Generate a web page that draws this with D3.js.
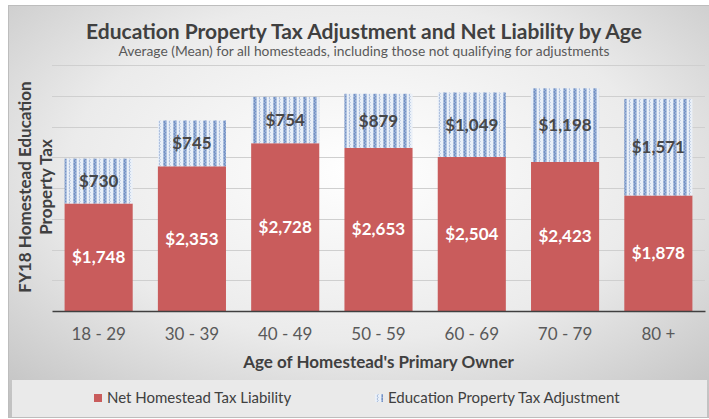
<!DOCTYPE html>
<html>
<head>
<meta charset="utf-8">
<script src="https://cdn.jsdelivr.net/npm/d3@7"></script>
<style>
  body { margin: 0; background: #ffffff; }
  svg text { font-family: Lato, "Open Sans", sans-serif; }
</style>
</head>
<body>
<div id="chart"></div>
<script>
// data
var ages = ["18 - 29", "30 - 39", "40 - 49", "50 - 59", "60 - 69", "70 - 79", "80 +"];
var netLiability = [1748, 2353, 2728, 2653, 2504, 2423, 1878];
var adjustment = [730, 745, 754, 879, 1049, 1198, 1571];
var yTicks = [0, 500, 1000, 1500, 2000, 2500, 3000, 3500, 4000];
var seriesNames = ["Net Homestead Tax Liability", "Education Property Tax Adjustment"];

var W = 709, H = 419;
var margin = {top: 65, right: 4, bottom: 108, left: 52};
var width = W - margin.left - margin.right,
    height = H - margin.top - margin.bottom;

var svg = d3.select("#chart").append("svg")
    .attr("width", W)
    .attr("height", H);

var defs = svg.append("defs");

// grey backdrop, light in the middle
var grad = defs.append("radialGradient")
    .attr("id", "bg")
    .attr("cx", "50%").attr("cy", "40%").attr("r", "75%");
grad.append("stop").attr("offset", "0%").attr("stop-color", "#ffffff");
grad.append("stop").attr("offset", "55%").attr("stop-color", "#ebebeb");
grad.append("stop").attr("offset", "100%").attr("stop-color", "#c2c2c2");

// wavy blue stripes for the adjustment series
var pat = defs.append("pattern")
    .attr("id", "wave")
    .attr("patternUnits", "userSpaceOnUse")
    .attr("width", 10).attr("height", 6);
pat.append("rect").attr("width", 10).attr("height", 6).attr("fill", "#eaf0f8");
pat.append("rect").attr("x", 1).attr("width", 4).attr("height", 6).attr("fill", "#b4c6e2");
pat.append("path")
    .attr("d", "M2,0 L3.6,1.5 L2,3 L3.6,4.5 L2,6")
    .attr("fill", "none").attr("stroke", "#7391c4").attr("stroke-width", 1.2);
pat.append("path")
    .attr("d", "M7,0 L8.2,1.5 L7,3 L8.2,4.5 L7,6")
    .attr("fill", "none").attr("stroke", "#a9bcdc").attr("stroke-width", 1);

svg.append("rect")
    .attr("x", 8.5).attr("y", 5.5)
    .attr("width", W - 8).attr("height", H - 7)
    .attr("fill", "url(#bg)")
    .attr("stroke", "#bdbdbd");

// title
svg.append("text")
    .attr("x", 364).attr("y", 39)
    .attr("text-anchor", "middle")
    .style("font-size", "21px")
    .style("font-weight", "bold")
    .attr("fill", "#404040")
    .text("Education Property Tax Adjustment and Net Liability by Age");
svg.append("text")
    .attr("x", 364).attr("y", 56)
    .attr("text-anchor", "middle")
    .style("font-size", "13.8px")
    .attr("fill", "#595959")
    .text("Average (Mean) for all homesteads, including those not qualifying for adjustments");

var g = svg.append("g")
    .attr("transform", "translate(" + margin.left + "," + margin.top + ")");

var x = d3.scaleBand()
    .domain(ages)
    .range([0, width])
    .paddingInner(0.27)
    .paddingOuter(0.135);

var y = d3.scaleLinear()
    .domain([0, 4000])
    .range([height, 0]);

// gridlines
g.append("g")
    .selectAll("line")
    .data(yTicks.slice(1))
    .enter().append("line")
    .attr("x1", 0).attr("x2", width)
    .attr("y1", function(d) { return Math.round(y(d)) + 0.5; })
    .attr("y2", function(d) { return Math.round(y(d)) + 0.5; })
    .attr("stroke", "#cfcfcf");

var rows = ages.map(function(a, i) {
    return {age: a, net: netLiability[i], adj: adjustment[i]};
});

// net liability (bottom)
g.append("g").selectAll("rect")
    .data(rows)
    .enter().append("rect")
    .attr("x", function(d) { return x(d.age); })
    .attr("width", x.bandwidth())
    .attr("y", function(d) { return y(d.net); })
    .attr("height", function(d) { return y(0) - y(d.net); })
    .attr("fill", "#c95c5c");

// adjustment (top)
g.append("g").selectAll("rect")
    .data(rows)
    .enter().append("rect")
    .attr("x", function(d) { return x(d.age); })
    .attr("width", x.bandwidth())
    .attr("y", function(d) { return y(d.net + d.adj); })
    .attr("height", function(d) { return y(d.net) - y(d.net + d.adj); })
    .attr("fill", "url(#wave)");

var fmt = d3.format("$,");

g.append("g").selectAll("text")
    .data(rows)
    .enter().append("text")
    .attr("x", function(d) { return x(d.age) + x.bandwidth() / 2; })
    .attr("y", function(d) { return (y(0) + y(d.net)) / 2; })
    .attr("dy", "0.35em")
    .attr("text-anchor", "middle")
    .style("font-size", "17px")
    .style("font-weight", "bold")
    .attr("fill", "#ffffff")
    .text(function(d) { return fmt(d.net); });

g.append("g").selectAll("text")
    .data(rows)
    .enter().append("text")
    .attr("x", function(d) { return x(d.age) + x.bandwidth() / 2; })
    .attr("y", function(d) { return (y(d.net) + y(d.net + d.adj)) / 2; })
    .attr("dy", "0.35em")
    .attr("text-anchor", "middle")
    .style("font-size", "17px")
    .style("font-weight", "bold")
    .attr("fill", "#474747")
    .text(function(d) { return fmt(d.adj); });

// x axis
var xAxis = g.append("g")
    .attr("transform", "translate(0," + height + ")")
    .call(d3.axisBottom(x).tickSize(0).tickPadding(17));
xAxis.select(".domain").attr("stroke", "#404040").attr("stroke-width", 1.5);
xAxis.selectAll("text")
    .style("font-size", "17px")
    .style("font-family", "Lato, sans-serif")
    .attr("fill", "#595959");

g.append("text")
    .attr("x", width / 2)
    .attr("y", height + 57)
    .attr("text-anchor", "middle")
    .style("font-size", "17px")
    .style("font-weight", "bold")
    .attr("fill", "#404040")
    .text("Age of Homestead's Primary Owner");

// y axis title, two lines
var yt = svg.append("text")
    .attr("transform", "translate(25,187) rotate(-90)")
    .attr("text-anchor", "middle")
    .style("font-size", "17px")
    .style("font-weight", "bold")
    .attr("fill", "#404040");
yt.append("tspan").attr("x", 0).attr("dy", "0.35em").text("FY18 Homestead Education");
yt.append("tspan").attr("x", 0).attr("dy", "1.25em").text("Property Tax");

// legend
svg.append("rect")
    .attr("x", 12).attr("y", 380)
    .attr("width", W - 14).attr("height", 37)
    .attr("fill", "#eaeaea");

var legend = svg.append("g");
var lx = [94, 375];
var lfill = ["#c95c5c", "url(#wave)"];
seriesNames.forEach(function(name, i) {
    legend.append("rect")
        .attr("x", lx[i]).attr("y", 394)
        .attr("width", 8).attr("height", 8)
        .attr("fill", lfill[i]);
    legend.append("text")
        .attr("x", lx[i] + 13).attr("y", 398)
        .attr("dy", "0.35em")
        .style("font-size", "15px")
        .attr("fill", "#404040")
        .text(name);
});
</script>
</body>
</html>
